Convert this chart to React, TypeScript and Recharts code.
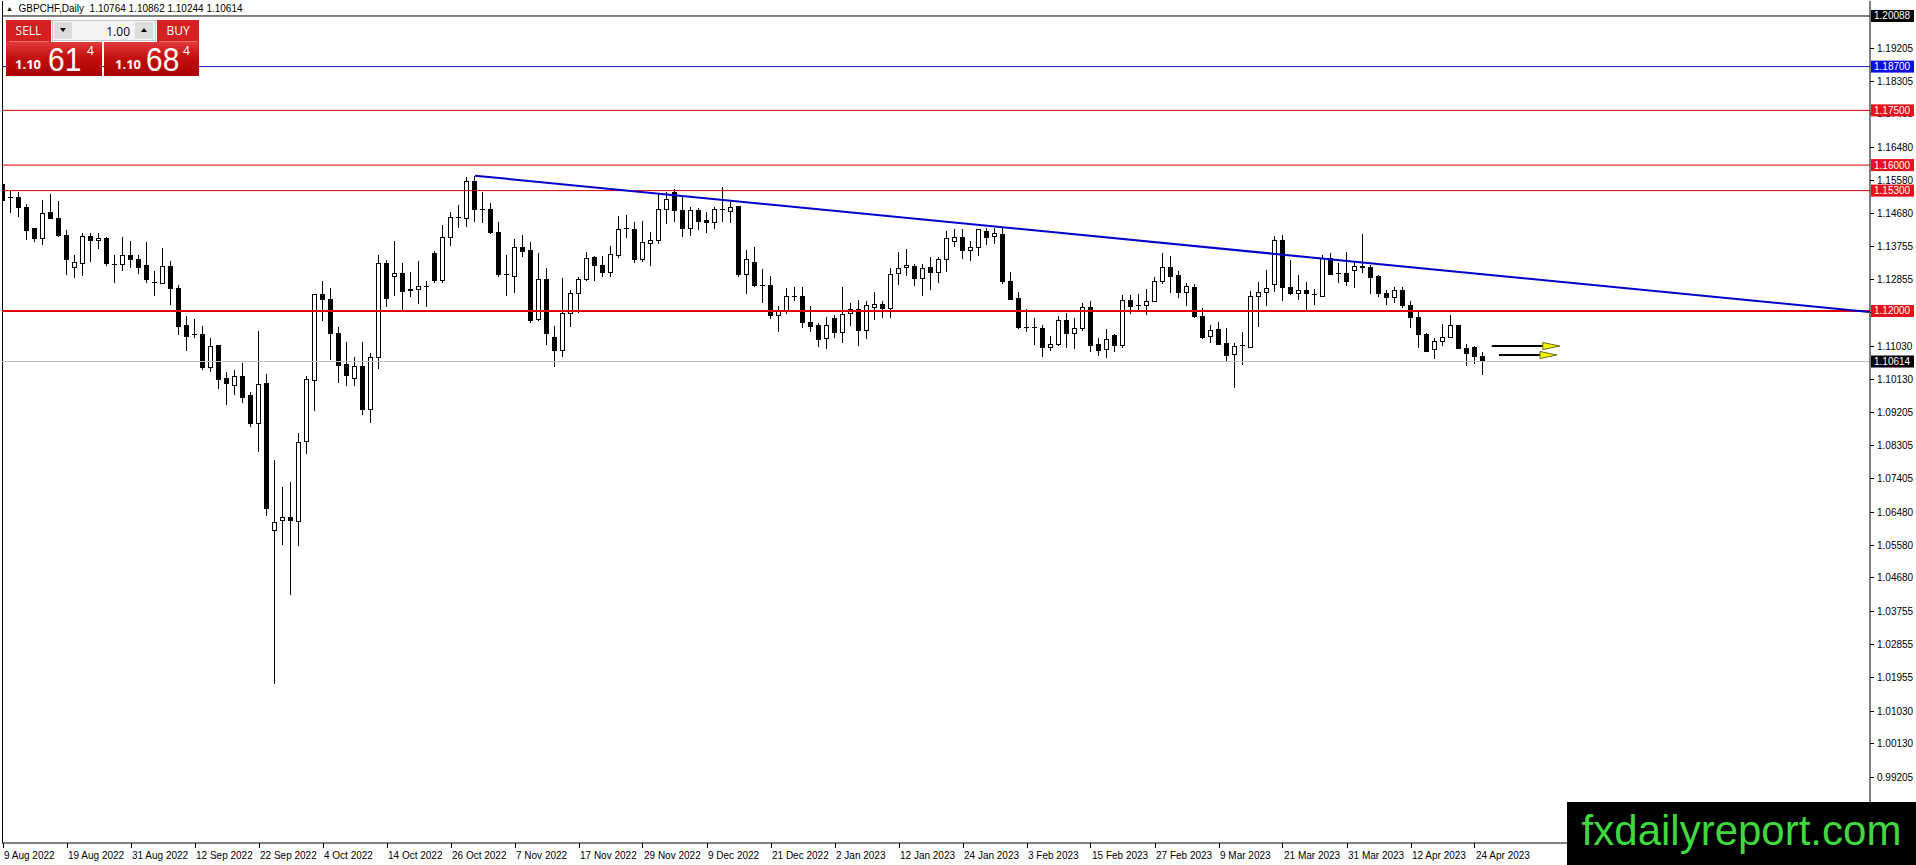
import React from 'react';
import { ComposedChart, Bar, XAxis, YAxis, ReferenceLine } from 'recharts';

// daily GBPCHF candles, 9 Aug 2022 .. 25 Apr 2023 (one entry per trading day)
const opens = [
  1.1548, 1.1510, 1.1511, 1.1483, 1.1426, 1.1400, 1.1469, 1.1453, 1.1406, 1.1318,
  1.1330, 1.1404, 1.1392, 1.1399, 1.1328, 1.1327, 1.1352, 1.1342, 1.1324, 1.1279,
  1.1274, 1.1321, 1.1261, 1.1159, 1.1136, 1.1135, 1.1046, 1.1106, 1.1016, 1.0997,
  1.1019, 1.0967, 1.0891, 1.1002, 1.0597, 1.0625, 1.0634, 1.0623, 1.0843, 1.1009,
  1.1244, 1.1232, 1.1137, 1.1052, 1.1015, 1.1049, 1.0930, 1.1073, 1.1331, 1.1294,
  1.1303, 1.1255, 1.1259, 1.1266, 1.1358, 1.1283, 1.1402, 1.1455, 1.1454, 1.1556,
  1.1479, 1.1479, 1.1415, 1.1299, 1.1294, 1.1374, 1.1365, 1.1177, 1.1285, 1.1128,
  1.1091, 1.1192, 1.1248, 1.1285, 1.1347, 1.1326, 1.1305, 1.1351, 1.1424, 1.1424,
  1.1340, 1.1385, 1.1394, 1.1479, 1.1524, 1.1475, 1.1427, 1.1475, 1.1449, 1.1442,
  1.1478, 1.1472, 1.1486, 1.1301, 1.1333, 1.1271, 1.1271, 1.1187, 1.1201, 1.1241,
  1.1241, 1.1168, 1.1159, 1.1124, 1.1180, 1.1141, 1.1194, 1.1205, 1.1146, 1.1209,
  1.1218, 1.1207, 1.1303, 1.1320, 1.1323, 1.1290, 1.1320, 1.1305, 1.1342, 1.1390,
  1.1402, 1.1365, 1.1375, 1.1419, 1.1404, 1.1411, 1.1280, 1.1233, 1.1156, 1.1154,
  1.1152, 1.1100, 1.1108, 1.1173, 1.1139, 1.1152, 1.1210, 1.1107, 1.1095, 1.1134,
  1.1104, 1.1230, 1.1212, 1.1214, 1.1227, 1.1282, 1.1320, 1.1296, 1.1250, 1.1265,
  1.1184, 1.1130, 1.1148, 1.1110, 1.1080, 1.1100, 1.1099, 1.1239, 1.1250, 1.1273,
  1.1393, 1.1265, 1.1248, 1.1257, 1.1246, 1.1239, 1.1344, 1.1301, 1.1303, 1.1311,
  1.1323, 1.1318, 1.1295, 1.1247, 1.1237, 1.1255, 1.1216, 1.1182, 1.1136, 1.1093,
  1.1116, 1.1128, 1.1159, 1.1096, 1.1100, 1.10764,
];
const highs = [
  1.1550, 1.1529, 1.1525, 1.1494, 1.1428, 1.1504, 1.1522, 1.1502, 1.1421, 1.1354,
  1.1414, 1.1414, 1.1414, 1.1402, 1.1354, 1.1404, 1.1393, 1.1354, 1.1389, 1.1310,
  1.1374, 1.1337, 1.1270, 1.1185, 1.1178, 1.1159, 1.1125, 1.1108, 1.1032, 1.1037,
  1.1056, 1.0979, 1.1144, 1.1027, 1.0792, 1.0718, 1.0732, 1.0865, 1.1022, 1.1246,
  1.1283, 1.1264, 1.1157, 1.1116, 1.1073, 1.1116, 1.1086, 1.1354, 1.1340, 1.1392,
  1.1331, 1.1306, 1.1337, 1.1283, 1.1365, 1.1436, 1.1472, 1.1491, 1.1568, 1.1571,
  1.1527, 1.1497, 1.1443, 1.1354, 1.1397, 1.1408, 1.1390, 1.1360, 1.1317, 1.1160,
  1.1290, 1.1258, 1.1294, 1.1363, 1.1351, 1.1351, 1.1378, 1.1460, 1.1463, 1.1445,
  1.1447, 1.1417, 1.1523, 1.1527, 1.1534, 1.1518, 1.1486, 1.1481, 1.1472, 1.1484,
  1.1541, 1.1500, 1.1488, 1.1367, 1.1375, 1.1315, 1.1296, 1.1214, 1.1264, 1.1265,
  1.1265, 1.1214, 1.1166, 1.1184, 1.1189, 1.1265, 1.1223, 1.1230, 1.1228, 1.1251,
  1.1227, 1.1317, 1.1363, 1.1369, 1.1329, 1.1329, 1.1347, 1.1349, 1.1419, 1.1424,
  1.1424, 1.1392, 1.1424, 1.1427, 1.1427, 1.1427, 1.1306, 1.1251, 1.1205, 1.1180,
  1.1162, 1.1131, 1.1186, 1.1195, 1.1180, 1.1221, 1.1226, 1.1125, 1.1151, 1.1136,
  1.1244, 1.1244, 1.1247, 1.1259, 1.1294, 1.1358, 1.1351, 1.1310, 1.1276, 1.1274,
  1.1207, 1.1162, 1.1169, 1.1152, 1.1111, 1.1141, 1.1255, 1.1279, 1.1311, 1.1406,
  1.1408, 1.1340, 1.1299, 1.1280, 1.1259, 1.1354, 1.1358, 1.1331, 1.1361, 1.1335,
  1.1411, 1.1326, 1.1299, 1.1258, 1.1267, 1.1267, 1.1226, 1.1203, 1.1139, 1.1125,
  1.1163, 1.1189, 1.1162, 1.1109, 1.1104, 1.10862,
];
const lows = [
  1.1497, 1.1469, 1.1457, 1.1395, 1.1389, 1.1381, 1.1452, 1.1403, 1.1298, 1.1291,
  1.1296, 1.1335, 1.1370, 1.1324, 1.1278, 1.1310, 1.1317, 1.1301, 1.1277, 1.1241,
  1.1273, 1.1215, 1.1134, 1.1090, 1.1125, 1.1039, 1.1034, 1.0985, 1.0942, 1.0970,
  1.0947, 1.0882, 1.0812, 1.0637, 1.0177, 1.0558, 1.0421, 1.0556, 1.0807, 1.0927,
  1.1173, 1.1066, 1.1003, 1.0994, 1.0994, 1.0915, 1.0894, 1.1040, 1.1210, 1.1241,
  1.1203, 1.1237, 1.1219, 1.1210, 1.1278, 1.1278, 1.1379, 1.1427, 1.1431, 1.1445,
  1.1440, 1.1411, 1.1294, 1.1241, 1.1250, 1.1349, 1.1166, 1.1173, 1.1107, 1.1045,
  1.1073, 1.1155, 1.1195, 1.1283, 1.1283, 1.1292, 1.1292, 1.1346, 1.1399, 1.1332,
  1.1335, 1.1324, 1.1384, 1.1438, 1.1445, 1.1404, 1.1406, 1.1422, 1.1413, 1.1426,
  1.1445, 1.1440, 1.1294, 1.1247, 1.1267, 1.1221, 1.1177, 1.1143, 1.1192, 1.1228,
  1.1152, 1.1141, 1.1102, 1.1095, 1.1127, 1.1113, 1.1160, 1.1105, 1.1122, 1.1175,
  1.1180, 1.1180, 1.1271, 1.1296, 1.1269, 1.1242, 1.1258, 1.1278, 1.1308, 1.1376,
  1.1343, 1.1338, 1.1351, 1.1381, 1.1384, 1.1274, 1.1230, 1.1151, 1.1143, 1.1107,
  1.1075, 1.1091, 1.1104, 1.1098, 1.1096, 1.1145, 1.1088, 1.1077, 1.1072, 1.1088,
  1.1099, 1.1192, 1.1198, 1.1189, 1.1226, 1.1274, 1.1248, 1.1235, 1.1213, 1.1182,
  1.1123, 1.1113, 1.1107, 1.1061, 1.0988, 1.1052, 1.1098, 1.1157, 1.1214, 1.1253,
  1.1226, 1.1244, 1.1230, 1.1203, 1.1216, 1.1237, 1.1299, 1.1276, 1.1269, 1.1264,
  1.1305, 1.1247, 1.1237, 1.1216, 1.1223, 1.1207, 1.1152, 1.1099, 1.1088, 1.1067,
  1.1105, 1.1126, 1.1095, 1.1050, 1.1054, 1.10244,
];
const closes = [
  1.1502, 1.1512, 1.1483, 1.1421, 1.1400, 1.1466, 1.1453, 1.1406, 1.1340, 1.1333,
  1.1404, 1.1392, 1.1399, 1.1329, 1.1327, 1.1352, 1.1342, 1.1320, 1.1285, 1.1278,
  1.1321, 1.1261, 1.1157, 1.1129, 1.1135, 1.1046, 1.1102, 1.1013, 1.1002, 1.1019,
  1.0963, 1.0891, 1.0999, 1.0658, 1.0621, 1.0634, 1.0625, 1.0840, 1.1013, 1.1244,
  1.1232, 1.1139, 1.1050, 1.1023, 1.1047, 1.0930, 1.1073, 1.1331, 1.1235, 1.1303,
  1.1253, 1.1260, 1.1268, 1.1268, 1.1283, 1.1402, 1.1457, 1.1457, 1.1555, 1.1479,
  1.1475, 1.1415, 1.1299, 1.1297, 1.1375, 1.1363, 1.1175, 1.1285, 1.1137, 1.1091,
  1.1192, 1.1248, 1.1285, 1.1344, 1.1326, 1.1305, 1.1354, 1.1424, 1.1426, 1.1340,
  1.1389, 1.1394, 1.1479, 1.1506, 1.1475, 1.1427, 1.1475, 1.1445, 1.1442, 1.1479,
  1.1475, 1.1484, 1.1299, 1.1340, 1.1271, 1.1269, 1.1187, 1.1201, 1.1241, 1.1240,
  1.1168, 1.1157, 1.1122, 1.1159, 1.1141, 1.1191, 1.1205, 1.1146, 1.1215, 1.1218,
  1.1207, 1.1301, 1.1317, 1.1326, 1.1290, 1.1317, 1.1305, 1.1342, 1.1399, 1.1402,
  1.1365, 1.1375, 1.1422, 1.1401, 1.1413, 1.1280, 1.1232, 1.1155, 1.1154, 1.1152,
  1.1100, 1.1108, 1.1175, 1.1139, 1.1152, 1.1210, 1.1104, 1.1091, 1.1122, 1.1104,
  1.1230, 1.1212, 1.1214, 1.1227, 1.1282, 1.1320, 1.1294, 1.1250, 1.1267, 1.1184,
  1.1128, 1.1146, 1.1109, 1.1077, 1.1102, 1.1104, 1.1239, 1.1250, 1.1262, 1.1393,
  1.1265, 1.1248, 1.1257, 1.1248, 1.1244, 1.1344, 1.1301, 1.1303, 1.1280, 1.1323,
  1.1318, 1.1292, 1.1247, 1.1237, 1.1255, 1.1214, 1.1182, 1.1136, 1.1090, 1.1116,
  1.1128, 1.1159, 1.1096, 1.1084, 1.1075, 1.10614,
];

const dateLabels = [
  '9 Aug 2022', '19 Aug 2022', '31 Aug 2022', '12 Sep 2022', '22 Sep 2022', '4 Oct 2022',
  '14 Oct 2022', '26 Oct 2022', '7 Nov 2022', '17 Nov 2022', '29 Nov 2022', '9 Dec 2022',
  '21 Dec 2022', '2 Jan 2023', '12 Jan 2023', '24 Jan 2023', '3 Feb 2023', '15 Feb 2023',
  '27 Feb 2023', '9 Mar 2023', '21 Mar 2023', '31 Mar 2023', '12 Apr 2023', '24 Apr 2023',
];
// bar index of each date label (every 8th bar)
const dateTicks = [
  0, 8, 16, 24, 32, 40, 48, 56, 64, 72, 80, 88,
  96, 104, 112, 120, 128, 136, 144, 152, 160, 168, 176, 184,
];

const priceTicks = [
  1.19205, 1.18305, 1.17405, 1.1648, 1.1558, 1.1468, 1.13755, 1.12855, 1.11955, 1.1103,
  1.1013, 1.09205, 1.08305, 1.07405, 1.0648, 1.0558, 1.0468, 1.03755, 1.02855, 1.01955,
  1.0103, 1.0013, 0.99205,
];

const topLine = 1.20088;
const blueLevel = 1.187;
const redLevels = [1.175, 1.16, 1.153];
const supportLevel = 1.12;
const bidPrice = 1.10614;
const tagLevels = [topLine, blueLevel, ...redLevels, supportLevel, bidPrice];

// trend line: [bar index, price] at both ends
const trendStart = [59, 1.1571];
const trendEnd = [233.3, 1.1197];
// arrows: [from bar, to bar, price]
const arrows = [
  [186.1, 194.6, 1.1104],
  [187.0, 194.25, 1.10793],
];

const candles = opens.map((o, i) => ({
  i,
  o,
  h: highs[i],
  l: lows[i],
  c: closes[i],
  range: [lows[i], highs[i]],
}));

const W = 1916;
const H = 865;
const FONT = '"Liberation Sans", Arial, sans-serif';
const redTag = '#e8101a';
const blueTag = '#0a0ae8';

const tagColor = (v: number) => {
  if (v === topLine || v === bidPrice) return '#000';
  if (v === blueLevel) return blueTag;
  return redTag;
};

const Candle = (props: any) => {
  const { x, y, width, height, payload } = props;
  if (x == null || y == null || !payload) return null;
  const { o, h, l, c } = payload;
  const cx = Math.floor(x + width / 2) + 0.5;
  const k = h === l ? 0 : height / (h - l);
  const py = (v: number) => y + (h - v) * k;
  const top = py(Math.max(o, c));
  const bot = py(Math.min(o, c));
  const bull = c >= o;
  return (
    <g shapeRendering="crispEdges">
      <line x1={cx} x2={cx} y1={y} y2={y + height} stroke="#000" strokeWidth={1} />
      {bot - top < 1.5 ? (
        <line x1={cx - 2.5} x2={cx + 2.5} y1={top} y2={top} stroke="#000" strokeWidth={1} />
      ) : (
        <rect x={cx - 2} y={top} width={4} height={bot - top} fill={bull ? '#fff' : '#000'} stroke="#000" strokeWidth={1} />
      )}
    </g>
  );
};

// right scale: ordinary price ticks, then the coloured level boxes (listed last so they draw on top)
const PriceTick = (props: any) => {
  const { x, y, payload, index } = props;
  const v = payload.value;
  if (index >= priceTicks.length) {
    return (
      <g>
        <rect x={x + 1} y={y - 6} width={43} height={12} fill={tagColor(v)} />
        <text x={x + 4} y={y + 3.5} fill="#fff" fontSize={10} fontFamily={FONT}>
          {v.toFixed(5)}
        </text>
      </g>
    );
  }
  return (
    <g>
      <line x1={x} x2={x + 4} y1={Math.floor(y) + 0.5} y2={Math.floor(y) + 0.5} stroke="#000" shapeRendering="crispEdges" />
      <text x={x + 7} y={y + 3.5} fontSize={10} fontFamily={FONT} fill="#000">
        {v.toFixed(5)}
      </text>
    </g>
  );
};

const DateTick = (props: any) => {
  const { x, y, payload } = props;
  const idx = dateTicks.indexOf(payload.value);
  const px = Math.floor(x) + 0.5;
  return (
    <g>
      <line x1={px} x2={px} y1={y} y2={y + 5} stroke="#000" shapeRendering="crispEdges" />
      <text x={x + 1} y={y + 16} fontSize={10} fontFamily={FONT} fill="#000" textAnchor="start">
        {idx >= 0 ? dateLabels[idx] : ''}
      </text>
    </g>
  );
};

const Arrow = (props: any) => {
  const { x1, y1, x2 } = props;
  if (x1 == null) return null;
  const head = 17;
  const yy = Math.round(y1);
  return (
    <g>
      <line x1={x1} x2={x2 - head + 1} y1={yy} y2={yy} stroke="#000" strokeWidth={2} />
      <polygon
        points={`${x2 - head},${yy - 3.5} ${x2},${yy} ${x2 - head},${yy + 3.5}`}
        fill="#f4f400"
        stroke="#6a6a20"
        strokeWidth={1}
      />
    </g>
  );
};

// small spin button with a drawn triangle
const SpinButton = ({ left, up }: { left: number; up: boolean }) => (
  <div style={{ position: 'absolute', left, top: 22, width: 18, height: 17, background: '#dcdcdc' }}>
    <div
      style={{
        position: 'absolute',
        left: 6,
        top: 6,
        width: 0,
        height: 0,
        borderLeft: '3px solid transparent',
        borderRight: '3px solid transparent',
        borderTop: up ? 'none' : '4px solid #000',
        borderBottom: up ? '4px solid #000' : 'none',
      }}
    />
  </div>
);

const TradePanel = () => {
  const red = 'linear-gradient(#e23a3a, #c41010 45%, #a80000)';
  const big = { position: 'absolute' as const, color: '#fff', fontFamily: '"Open Sans", "Noto Sans", sans-serif', whiteSpace: 'nowrap' as const };
  const digits = {
    ...big,
    fontFamily: FONT,
    fontSize: 34,
    transform: 'scaleX(0.88)',
    transformOrigin: 'left center',
  };
  return (
    <div style={{ position: 'absolute', left: 0, top: 0 }}>
      {/* sell */}
      <div style={{ position: 'absolute', left: 6, top: 20, width: 45, height: 22, background: '#d42020' }} />
      <div style={{ position: 'absolute', left: 6, top: 42, width: 96, height: 34, background: red }} />
      <div style={{ position: 'absolute', left: 9, top: 41, width: 40, height: 1, background: '#f07070' }} />
      <div style={{ ...big, left: 6, top: 22, width: 45, textAlign: 'center', fontSize: 12 }}>SELL</div>
      <div style={{ ...big, left: 15, top: 55, fontSize: 13, fontWeight: 700 }}>1.10</div>
      <div style={{ ...digits, left: 48, top: 40 }}>61</div>
      <div style={{ ...big, left: 87, top: 42, fontSize: 12 }}>4</div>
      {/* lots */}
      <div style={{ position: 'absolute', left: 52, top: 20, width: 104, height: 21, background: '#f4f4f4', border: '1px solid #c8c8c8', boxSizing: 'border-box' }} />
      <SpinButton left={54} up={false} />
      <SpinButton left={135} up />
      <div style={{ position: 'absolute', left: 80, top: 23, width: 50, textAlign: 'right', fontSize: 12, fontFamily: '"Open Sans", sans-serif', color: '#000' }}>1.00</div>
      {/* buy */}
      <div style={{ position: 'absolute', left: 157, top: 20, width: 42, height: 22, background: '#d42020' }} />
      <div style={{ position: 'absolute', left: 104, top: 42, width: 95, height: 34, background: red }} />
      <div style={{ position: 'absolute', left: 159, top: 41, width: 38, height: 1, background: '#f07070' }} />
      <div style={{ ...big, left: 157, top: 22, width: 42, textAlign: 'center', fontSize: 12 }}>BUY</div>
      <div style={{ ...big, left: 115, top: 55, fontSize: 13, fontWeight: 700 }}>1.10</div>
      <div style={{ ...digits, left: 146, top: 40 }}>68</div>
      <div style={{ ...big, left: 183, top: 42, fontSize: 12 }}>4</div>
    </div>
  );
};

export default function App() {
  return (
    <div style={{ position: 'absolute', left: 0, top: 0, width: W, height: H, background: '#fff', overflow: 'hidden' }}>
      <ComposedChart width={W} height={H} data={candles} margin={{ top: 1, right: 0, left: 2, bottom: 0 }}>
        <XAxis
          dataKey="i"
          type="number"
          domain={[-0.125, 233.375]}
          allowDataOverflow
          ticks={dateTicks}
          interval={0}
          height={22}
          tickSize={0}
          tickMargin={0}
          axisLine={{ stroke: '#000' }}
          tickLine={false}
          tick={<DateTick />}
        />
        <YAxis
          orientation="right"
          type="number"
          domain={[0.97412, 1.20499]}
          allowDataOverflow
          ticks={[...priceTicks, ...tagLevels]}
          interval={0}
          width={46}
          tickSize={0}
          tickMargin={0}
          axisLine={{ stroke: '#000' }}
          tickLine={false}
          tick={<PriceTick />}
        />
        <ReferenceLine x={-0.0625} stroke="#000" ifOverflow="visible" />
        <ReferenceLine y={bidPrice} stroke="#c0c0c0" />
        <ReferenceLine y={topLine} stroke="#000" />
        <ReferenceLine y={blueLevel} stroke="#1010c8" />
        {redLevels.map((v) => (
          <ReferenceLine key={v} y={v} stroke="#d80000" />
        ))}
        <ReferenceLine y={supportLevel} stroke="#e00000" strokeWidth={2} />
        <Bar dataKey="range" barSize={5} shape={<Candle />} isAnimationActive={false} />
        <ReferenceLine
          segment={[
            { x: trendStart[0], y: trendStart[1] },
            { x: trendEnd[0], y: trendEnd[1] },
          ]}
          stroke="#0000cc"
          strokeWidth={2}
          ifOverflow="visible"
        />
        {arrows.map((a, n) => (
          <ReferenceLine
            key={n}
            segment={[
              { x: a[0], y: a[2] },
              { x: a[1], y: a[2] },
            ]}
            ifOverflow="visible"
            shape={(p: any) => <Arrow {...p} />}
          />
        ))}
      </ComposedChart>

      <div style={{ position: 'absolute', left: 6, top: 3, fontSize: 10, fontFamily: FONT, color: '#000', whiteSpace: 'pre' }}>
        <span style={{ fontSize: 7, verticalAlign: 1 }}>▲</span>{'  GBPCHF,Daily  1.10764 1.10862 1.10244 1.10614'}
      </div>
      <TradePanel />
      <div
        style={{
          position: 'absolute',
          left: 1567,
          top: 802,
          width: 349,
          height: 63,
          background: '#000',
          color: '#3fd83f',
          fontFamily: FONT,
          fontSize: 42,
          lineHeight: '58px',
          textAlign: 'center',
        }}
      >
        fxdailyreport.com
      </div>
    </div>
  );
}
